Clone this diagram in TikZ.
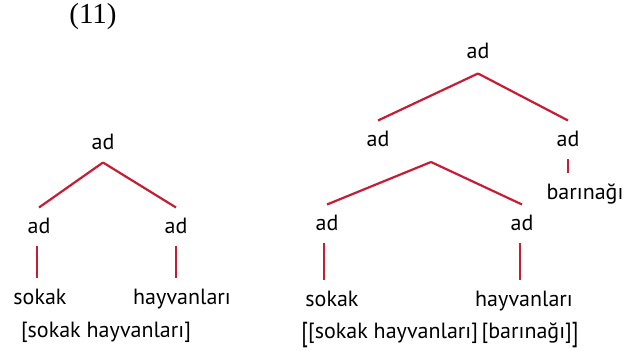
\documentclass[tikz,border=0pt]{standalone}
\usepackage{fontspec}
\setmainfont{PT Sans}
\newfontfamily\exnumfont{Liberation Serif}
\definecolor{treered}{RGB}{196,30,52}

\begin{document}
\begin{tikzpicture}[x=0.5pt,y=-0.5pt,
	every node/.style={font=\fontsize{11}{13}\selectfont, text height=8.5pt, text depth=2pt, inner xsep=1pt, inner ysep=4.3pt},
	branch/.style={draw=treered, line width=1.1pt}]
	\useasboundingbox (0,0) rectangle (638,351);
	\node (exno) at (93,17) {\exnumfont\fontsize{14.5}{16}\selectfont (11)};
	% left tree
	\node (l) at (103,143) {ad};
	\node (l1) at (39,227) {ad};
	\node (l2) at (176,227) {ad};
	\node (lw1) at (40,298) {sokak};
	\node (lw2) at (182,298) {hayvanları};
	\node (lbr) at (106,331) {[sokak hayvanları]};
	\draw[branch] (l.south) -- (l1.north);
	\draw[branch] (l.south) -- (l2.north);
	\draw[branch] ([xshift=-1pt]l1.south) -- ([xshift=-1pt]l1.south |- lw1.north);
	\draw[branch] (l2.south) -- (l2.south |- lw2.north);
	% right tree
	\node (r) at (478,52) {ad};
	\node (r1) at (378,140) {ad};
	\node (r2) at (568,140) {ad};
	\node (rw3) at (585,193) {barınağı};
	\coordinate (rj) at (431,162);
	\node (r11) at (327,224) {ad};
	\node (r12) at (522,224) {ad};
	\node (rw1) at (332,300) {sokak};
	\node (rw2) at (524,300) {hayvanları};
	\node (rbr) at (440,332) {\raisebox{-1.5pt}{\scalebox{1}[1.25]{[}}[sokak hayvanları]\,[barınağı]\raisebox{-1.5pt}{\scalebox{1}[1.25]{]}}};
	\draw[branch] ([yshift=-1pt]r.south) -- (r1.north);
	\draw[branch] ([yshift=-1pt]r.south) -- (r2.north);
	\draw[branch] (r2.south) -- (r2.south |- rw3.north);
	\draw[branch] (rj) -- (r11.north);
	\draw[branch] (rj) -- (r12.north);
	\draw[branch] ([xshift=-1.5pt]r11.south) -- ([xshift=-1.5pt]r11.south |- rw1.north);
	\draw[branch] ([xshift=-1pt]r12.south) -- ([xshift=-1pt]r12.south |- rw2.north);
\end{tikzpicture}
\end{document}
